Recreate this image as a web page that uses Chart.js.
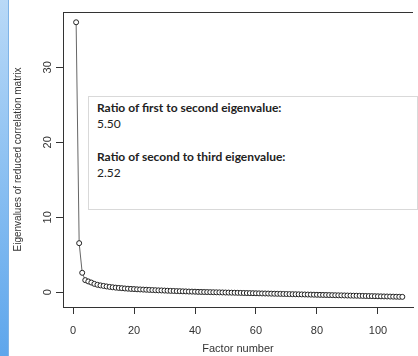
<!DOCTYPE html>
<html>
<head>
<meta charset="utf-8">
<script src="https://cdn.jsdelivr.net/npm/chart.js@4/dist/chart.umd.min.js"></script>
<style>
  html, body { margin: 0; padding: 0; background: #fff; }
  #wrap { position: relative; width: 418px; height: 356px; overflow: hidden; }
  #c { position: absolute; left: 0; top: 0; }
  #stripe { position: absolute; left: 0; top: 0; width: 8px; height: 356px;
    background: linear-gradient(to bottom, #b9d9f7 0%, #8fc2f2 45%, #5ea6ec 100%);
    border-right: 1px solid #7fb3e6; }
  #note { position: absolute; left: 88px; top: 96px; width: 328px; height: 112px;
    background: #fff; border: 1px solid #d9d9d9; font-family: Lato, "Open Sans", sans-serif;
    font-size: 12px; color: #222; }
  #note p { margin: 0; position: absolute; left: 8px; line-height: 16px; }
  #note b { font-weight: 700; }
</style>
</head>
<body>
<div id="wrap">
  <canvas id="c" width="418" height="356"></canvas>
  <div id="stripe"></div>
  <div id="note">
    <p style="top:3px"><b>Ratio of first to second eigenvalue:</b><br>5.50</p>
    <p style="top:52px"><b>Ratio of second to third eigenvalue:</b><br>2.52</p>
  </div>
</div>
<script>
// Eigenvalues of the reduced correlation matrix
const eigenvalues = [
  36.0, 6.55, 2.60, 1.62, 1.45, 1.30, 1.12, 1.00, 0.92, 0.85,
  0.78, 0.72, 0.67, 0.62, 0.58, 0.55, 0.51, 0.48, 0.45, 0.43,
  0.40, 0.38, 0.36, 0.34, 0.32, 0.30, 0.28, 0.26, 0.25, 0.23,
  0.21, 0.19, 0.18, 0.16, 0.15, 0.13, 0.12, 0.10, 0.09, 0.08,
  0.06, 0.05, 0.04, 0.03, 0.02, 0.01, 0.00, -0.01, -0.02, -0.03,
  -0.04, -0.05, -0.06, -0.07, -0.08, -0.09, -0.10, -0.11, -0.12, -0.13,
  -0.14, -0.15, -0.16, -0.17, -0.18, -0.19, -0.20, -0.21, -0.22, -0.23,
  -0.24, -0.25, -0.26, -0.27, -0.28, -0.29, -0.30, -0.31, -0.32, -0.33,
  -0.34, -0.35, -0.36, -0.37, -0.38, -0.39, -0.40, -0.41, -0.42, -0.43,
  -0.44, -0.45, -0.46, -0.47, -0.48, -0.49, -0.50, -0.51, -0.52, -0.53,
  -0.54, -0.55, -0.56, -0.57, -0.58, -0.59, -0.60, -0.61
];
const factorNumbers = eigenvalues.map((_, i) => i + 1);
const xTickValues = [0, 20, 40, 60, 80, 100];
const yTickValues = [0, 10, 20, 30];
const xTitle = 'Factor number';
const yTitle = 'Eigenvalues of reduced correlation matrix';

const points = factorNumbers.map((f, i) => ({ x: f, y: eigenvalues[i] }));

const topFrame = {
  id: 'topFrame',
  afterDraw(chart) {
    const a = chart.chartArea, ctx = chart.ctx;
    ctx.save();
    ctx.strokeStyle = '#333';
    ctx.lineWidth = 1;
    ctx.beginPath();
    ctx.moveTo(a.left, a.top + 0.5);
    ctx.lineTo(a.right, a.top + 0.5);
    ctx.stroke();
    ctx.restore();
  }
};

new Chart(document.getElementById('c'), {
  type: 'line',
  data: {
    datasets: [{
      data: points,
      borderColor: '#666',
      borderWidth: 1,
      pointRadius: 2.5,
      pointBorderWidth: 1,
      pointBorderColor: '#222',
      pointBackgroundColor: '#fff',
      tension: 0
    }]
  },
  options: {
    responsive: false,
    animation: false,
    layout: { padding: { top: 12, right: 0, left: 0, bottom: 0 } },
    plugins: { legend: { display: false }, tooltip: { enabled: false } },
    font: { family: '"Liberation Sans", Arial, sans-serif' },
    scales: {
      x: {
        type: 'linear',
        min: -3.3,
        max: 111.5,
        afterFit(s) { s.height = 49; },
        afterBuildTicks(s) { s.ticks = xTickValues.map(v => ({ value: v })); },
        border: { display: true, color: '#333', width: 1 },
        grid: { drawOnChartArea: false, drawTicks: true, tickLength: 7, tickColor: '#333' },
        ticks: { color: '#333', padding: 10, maxRotation: 0,
          font: { family: '"Liberation Sans", Arial, sans-serif', size: 11 } },
        title: { display: true, text: xTitle, color: '#333', padding: { top: 0, bottom: 0 },
          font: { family: '"Liberation Sans", Arial, sans-serif', size: 11 } }
      },
      y: {
        type: 'linear',
        min: -1.96,
        max: 37.37,
        afterFit(s) { s.width = 63; },
        afterBuildTicks(s) { s.ticks = yTickValues.map(v => ({ value: v })); },
        border: { display: true, color: '#333', width: 1 },
        grid: { drawOnChartArea: false, drawTicks: true, tickLength: 7, tickColor: '#333' },
        ticks: { color: '#333', padding: 2, minRotation: 90, maxRotation: 90, crossAlign: 'center',
          font: { family: '"Liberation Sans", Arial, sans-serif', size: 11 } },
        title: { display: true, text: yTitle, color: '#333', padding: { top: 12, bottom: 0 },
          font: { family: '"Liberation Sans", Arial, sans-serif', size: 10 } }
      }
    }
  },
  plugins: [topFrame]
});
</script>
</body>
</html>
